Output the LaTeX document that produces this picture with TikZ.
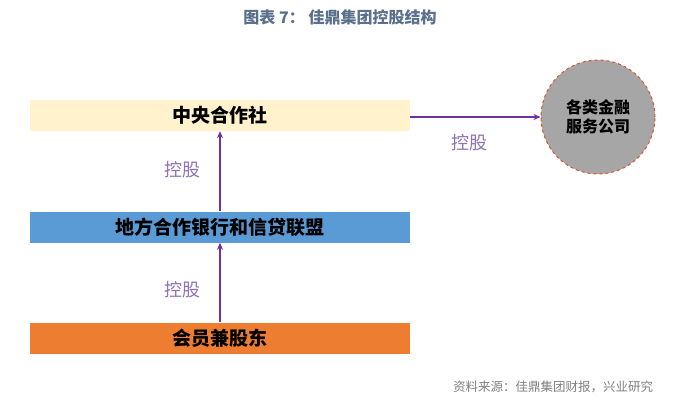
\documentclass[tikz,border=0pt]{standalone}
\usepackage{fontspec}
\setmainfont{Noto Sans CJK SC}
\usetikzlibrary{arrows.meta}
\definecolor{titlec}{HTML}{5B6F8E}
\definecolor{boxyel}{HTML}{FFF2CC}
\definecolor{boxblue}{HTML}{5B9BD5}
\definecolor{boxorg}{HTML}{ED7D31}
\definecolor{arrc}{HTML}{7030A0}
\definecolor{labc}{HTML}{8E72B4}
\definecolor{circfill}{HTML}{A6A6A6}
\definecolor{circdraw}{HTML}{E0502A}
\definecolor{srcc}{HTML}{808080}
\tikzset{
  bar/.style={minimum width=380pt, minimum height=31pt, inner sep=0pt, font=\fontsize{19pt}{21pt}\selectfont\bfseries},
  conn/.style={draw=arrc, line width=1.4pt, -{Stealth[length=7pt,width=6pt]}},
  lab/.style={text=labc, font=\fontsize{18pt}{20pt}\selectfont},
}
\begin{document}
\begin{tikzpicture}[x=1pt,y=-1pt]
\useasboundingbox[fill=white] (0,0) rectangle (700,405);
\node[text=titlec, font=\fontsize{16pt}{18pt}\selectfont\bfseries] (title) at (340,17) {图表 7\symbol{"FF1A}\ 佳鼎集团控股结构};
\node[bar, fill=boxyel] (ccs) at (220,115.5) {中央合作社};
\node[bar, fill=boxblue] (lcb) at (220,227) {地方合作银行和信贷联盟};
\node[bar, fill=boxorg] (mem) at (220,338) {会员兼股东};
\node[circle, minimum size=114pt, inner sep=0pt, fill=circfill, draw=circdraw, dashed, line width=1pt, align=center, font=\fontsize{16pt}{19pt}\selectfont\bfseries] (fin) at (598,117) {各类金融\\服务公司};
\draw[conn] (mem) -- (lcb);
\draw[conn] (lcb) -- (ccs);
\draw[conn] (ccs.east |- fin.west) -- (fin.west);
\node[lab] (l1) at (182,170) {控股};
\node[lab] (l2) at (182,290) {控股};
\node[lab] (l3) at (469,143) {控股};
\node[text=srcc, font=\fontsize{12.5pt}{14pt}\selectfont] (src) at (553,387) {资料来源\symbol{"FF1A}佳鼎集团财报\symbol{"FF0C}兴业研究};
\end{tikzpicture}
\end{document}
